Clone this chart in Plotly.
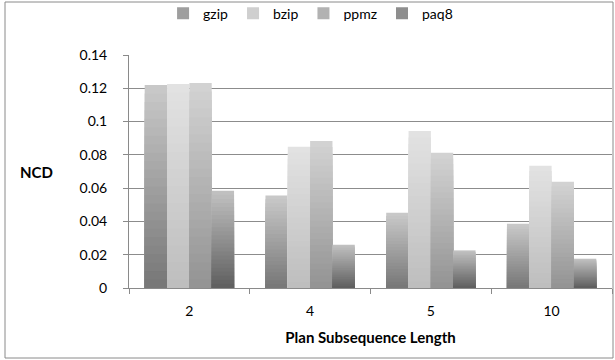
import plotly.graph_objects as go

categories = ["2", "4", "5", "10"]
gzip = [0.122, 0.0556, 0.0452, 0.0386]
bzip = [0.1226, 0.0848, 0.0944, 0.0734]
ppmz = [0.1232, 0.0884, 0.0812, 0.0638]
paq8 = [0.0584, 0.026, 0.0226, 0.0176]
series_names = ["gzip", "bzip", "ppmz", "paq8"]
y_ticks = [0, 0.02, 0.04, 0.06, 0.08, 0.1, 0.12, 0.14]
y_tick_text = ["0", "0.02", "0.04", "0.06", "0.08", "0.1", "0.12", "0.14"]

# gradient colours (top, bottom) per series
grad = {
    "gzip": ((200, 200, 200), (120, 120, 120)),
    "bzip": ((226, 226, 226), (190, 190, 190)),
    "ppmz": ((210, 210, 210), (148, 148, 148)),
    "paq8": ((192, 192, 192), (96, 96, 96)),
}

FONT = "Lato"
N = 24

fig = go.Figure()
for name, vals in zip(series_names, [gzip, bzip, ppmz, paq8]):
    top, bot = grad[name]
    for k in range(N):
        f = k / (N - 1)
        c = tuple(round(top[j] + (bot[j] - top[j]) * f) for j in range(3))
        frac = (N - k) / N
        fig.add_trace(go.Bar(
            x=categories,
            y=[v * frac for v in vals],
            name=name,
            offsetgroup=name,
            legendgroup=name,
            showlegend=(k == N // 2),
            marker=dict(color="rgb(%d,%d,%d)" % c, line=dict(width=0)),
            hoverinfo="skip" if k else None,
        ))

L, R, T, B = 129, 3, 55, 72
W, H = 615, 360
pw, ph = W - L - R, H - T - B

def px_x(p):
    return (p - L) / pw

def px_y(p):
    return (H - B - p) / ph

fig.update_layout(
    width=W, height=H,
    margin=dict(l=L, r=R, t=T, b=B),
    paper_bgcolor="white", plot_bgcolor="white",
    barmode="group", bargap=0.26, bargroupgap=0,
    font=dict(family=FONT, size=14, color="black"),
    legend=dict(orientation="h", xref="container", yref="container",
                x=0.505, xanchor="center", y=0.962, yanchor="middle",
                font=dict(size=14), itemwidth=30, traceorder="normal",
                bgcolor="rgba(0,0,0,0)"),
    xaxis=dict(
        type="category", showline=True, linecolor="#8a8a8a", linewidth=1,
        ticks="outside", tickson="boundaries", ticklen=5, tickcolor="#8a8a8a",
        ticklabelstandoff=10, tickfont=dict(size=14),
        title=dict(text="<b>Plan Subsequence Length</b>", standoff=14,
                   font=dict(size=15)),
        showgrid=False,
    ),
    yaxis=dict(
        range=[0, 0.14], tickvals=y_ticks, ticktext=y_tick_text,
        showline=True, linecolor="#8a8a8a", linewidth=1,
        ticks="outside", ticklen=5, tickcolor="#8a8a8a",
        ticklabelstandoff=13, tickfont=dict(size=14),
        showgrid=True, gridcolor="#8c8c8c", gridwidth=1,
        zeroline=False,
    ),
    annotations=[dict(text="<b>NCD</b>", xref="paper", yref="paper",
                      x=px_x(36), y=0.5, xanchor="center", yanchor="middle",
                      showarrow=False, font=dict(size=15))],
    shapes=[dict(type="rect", xref="paper", yref="paper",
                 x0=px_x(5), x1=px_x(613), y0=px_y(358), y1=px_y(2),
                 line=dict(color="#8a8a8a", width=1), layer="below")],
)

fig.write_html("out.html")
